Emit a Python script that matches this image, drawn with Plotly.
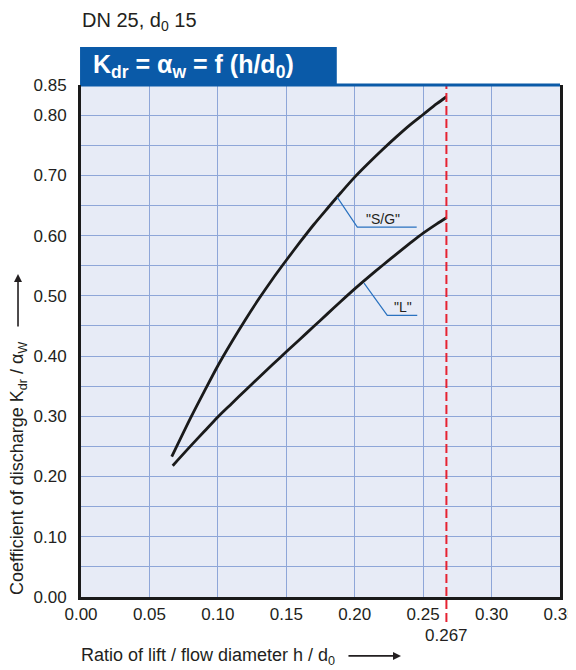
import plotly.graph_objects as go

# Data
sg_x = [0.0663, 0.08, 0.09, 0.10, 0.11, 0.12, 0.13, 0.14, 0.15, 0.16, 0.17, 0.18, 0.19,
        0.20, 0.21, 0.22, 0.23, 0.24, 0.25, 0.26, 0.267]
sg_y = [0.233, 0.297, 0.341, 0.384, 0.423, 0.460, 0.495, 0.528, 0.559, 0.589, 0.618, 0.645,
        0.6715, 0.697, 0.720, 0.742, 0.763, 0.783, 0.801, 0.819, 0.8305]
l_x = [0.067, 0.08, 0.09, 0.10, 0.11, 0.12, 0.13, 0.14, 0.15, 0.16, 0.17, 0.18, 0.19,
       0.20, 0.21, 0.22, 0.23, 0.24, 0.25, 0.26, 0.267]
l_y = [0.218, 0.2505, 0.2747, 0.299, 0.321, 0.343, 0.3645, 0.386, 0.407, 0.428, 0.449, 0.470,
       0.491, 0.5115, 0.531, 0.550, 0.5685, 0.5865, 0.604, 0.6195, 0.6297]
h_limit = 0.267

x_ticks = [0.00, 0.05, 0.10, 0.15, 0.20, 0.25, 0.30, 0.35]
x_labels = ["0.00", "0.05", "0.10", "0.15", "0.20", "0.25", "0.30", "0.35"]
y_ticks = [round(i * 0.05, 2) for i in range(18)]
y_labels = ["0.00", "", "0.10", "", "0.20", "", "0.30", "", "0.40", "", "0.50", "",
            "0.60", "", "0.70", "", "0.80", "0.85"]

FONT = "Liberation Sans, Arial, Helvetica, sans-serif"
TXT = "#231f20"
BLUE = "#0a5aa8"
GRID = "#8ea6d8"
LEAD = "#2a72c0"

fig = go.Figure()
fig.add_trace(go.Scatter(x=sg_x, y=sg_y, mode="lines",
                         line=dict(color="#1a1a1a", width=2.8, shape="spline", smoothing=0.8),
                         hoverinfo="skip", showlegend=False))
fig.add_trace(go.Scatter(x=l_x, y=l_y, mode="lines",
                         line=dict(color="#1a1a1a", width=2.8, shape="spline", smoothing=0.8),
                         hoverinfo="skip", showlegend=False))

shapes = []
# leader lines
shapes.append(dict(type="path", xref="x", yref="y", path="M 0.1873 0.6635 L 0.2019 0.614 L 0.2453 0.614",
                   line=dict(color=LEAD, width=1.2)))
shapes.append(dict(type="path", xref="x", yref="y", path="M 0.2068 0.521 L 0.2238 0.4676 L 0.2457 0.4676",
                   line=dict(color=LEAD, width=1.2)))
# red dashed limit line
shapes.append(dict(type="line", xref="x", yref="paper", x0=h_limit, x1=h_limit, y0=-0.049, y1=1.0,
                   line=dict(color="#e62231", width=2, dash="9px,4px")))
# top blue border
shapes.append(dict(type="line", xref="paper", yref="paper", x0=0, x1=1, y0=1.0, y1=1.0,
                   line=dict(color=BLUE, width=3)))
# title box
shapes.append(dict(type="rect", xref="paper", yref="paper", x0=-0.002, x1=0.534, y0=1.0, y1=1.074,
                   fillcolor=BLUE, line=dict(width=0)))

annotations = [
    dict(text="DN 25, d<sub>0</sub> 15", xref="paper", yref="paper", x=-0.002, y=1.124,
         xanchor="left", yanchor="middle", showarrow=False, font=dict(size=20, color=TXT, family=FONT)),
    dict(text="<b>K<sub>dr</sub> = α<sub>w</sub> = f (h/d<sub>0</sub>)</b>", xref="paper", yref="paper",
         x=0.021, y=1.037, xanchor="left", yanchor="middle", showarrow=False,
         font=dict(size=25, color="white", family=FONT)),
    dict(text="\"S/G\"", xref="x", yref="y", x=0.2205, y=0.628, showarrow=False,
         font=dict(size=14, color=TXT, family=FONT)),
    dict(text="\"L\"", xref="x", yref="y", x=0.2350, y=0.482, showarrow=False,
         font=dict(size=14, color=TXT, family=FONT)),
    dict(text="0.267", xref="x", yref="paper", x=h_limit, y=-0.076, showarrow=False,
         xanchor="center", yanchor="middle", font=dict(size=17, color=TXT, family=FONT)),
    dict(text="Ratio of lift / flow diameter h / d<sub>0</sub>", xref="paper", yref="paper",
         x=-0.004, y=-0.117, xanchor="left", yanchor="middle", showarrow=False,
         font=dict(size=18, color=TXT, family=FONT)),
    dict(text="", xref="paper", yref="paper", x=0.668, y=-0.115, ax=-54, ay=0, showarrow=True,
         arrowhead=2, arrowsize=1, arrowwidth=1.6, arrowcolor=TXT),
    dict(text="Coefficient of discharge K<sub>dr</sub> / α<sub>W</sub>", xref="paper", yref="paper",
         x=-0.1315, y=0.25, textangle=-90, xanchor="center", yanchor="middle", showarrow=False,
         font=dict(size=18, color=TXT, family=FONT)),
    dict(text="", xref="paper", yref="paper", x=-0.1315, y=0.631, ax=0, ay=54, showarrow=True,
         arrowhead=2, arrowsize=1, arrowwidth=1.6, arrowcolor=TXT),
]

# the page body adds an 8px margin, so the figure is 8px smaller and margins shifted
fig.update_layout(
    template="none",
    width=568, height=662,
    margin=dict(l=73, r=16, t=77, b=73, autoexpand=False),
    paper_bgcolor="white", plot_bgcolor="#e7ebf6",
    font=dict(family=FONT, color=TXT, size=17),
    shapes=shapes, annotations=annotations,
    showlegend=False,
)
fig.update_xaxes(range=[0, 0.35], tickvals=x_ticks, ticktext=x_labels, showgrid=True, gridcolor=GRID,
                 gridwidth=1, zeroline=False, showline=True, linecolor="#1a1a1a", linewidth=3, mirror=False,
                 ticks="", automargin=False, ticklabeloverflow="allow",
                 tickfont=dict(size=17, color=TXT, family=FONT))
fig.update_yaxes(range=[0, 0.85], tickvals=y_ticks, ticktext=y_labels, showgrid=True, gridcolor=GRID,
                 gridwidth=1, zeroline=False, showline=True, linecolor="#1a1a1a", linewidth=3, mirror=True,
                 ticks="outside", ticklen=8, tickcolor="rgba(0,0,0,0)", automargin=False,
                 tickfont=dict(size=17, color=TXT, family=FONT))

fig.write_html("out.html")
